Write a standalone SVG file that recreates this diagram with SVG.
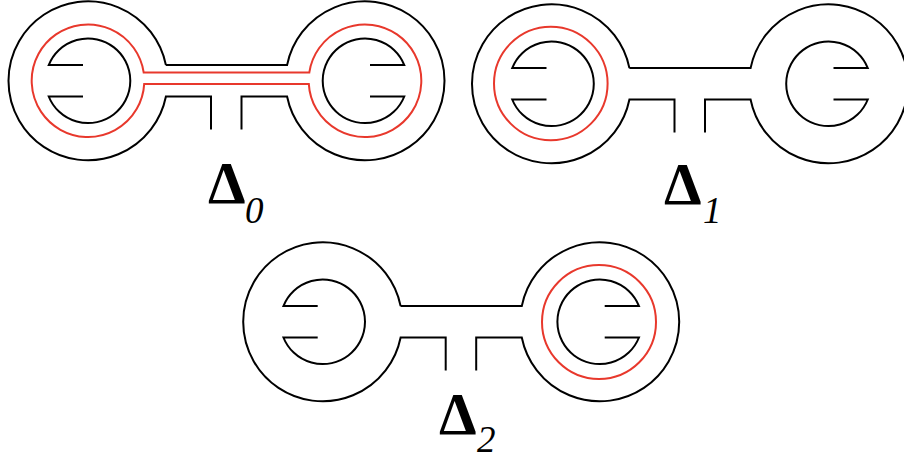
<svg xmlns="http://www.w3.org/2000/svg" width="904" height="459" viewBox="0 0 904 459">
<style>
.k{fill:none;stroke:#000;stroke-width:2}
.r{fill:none;stroke:#e8382c;stroke-width:2}
.d{font-family:"Liberation Serif",serif;font-weight:bold;font-size:60px;fill:#000}
.s{font-family:"Liberation Serif",serif;font-style:italic;font-size:37px;fill:#000}
</style>
<defs>
<g id="shape">
<path class="k" d="M77.93,-15.7 A79.5,79.5 0 1 0 77.93,15.7 L123,15.7 L123,48.8 M153.5,48.8 L153.5,15.7 L199.07,15.7 A79.5,79.5 0 1 0 199.07,-15.7 L77.93,-15.7"/>
<path class="k" d="M-5,-15.7 L-39.28,-15.7 A42.3,42.3 0 1 1 -39.28,15.7 L-5,15.7"/>
<path class="k" d="M282,-15.7 L316.28,-15.7 A42.3,42.3 0 1 0 316.28,15.7 L282,15.7"/>
</g>
</defs>
<g id="delta0">
<use href="#shape" transform="translate(88,80.8)"/>
<path class="r" transform="translate(88,80.8)" d="M55.67,-8.4 L221.33,-8.4 A56.3,56.3 0 1 1 220.8,3.1 L56.2,3.1 A56.3,56.3 0 1 1 55.67,-8.4 Z"/>
<text class="d" x="208" y="203">Δ</text>
<text class="s" x="245" y="223">0</text>
</g>
<g id="delta1">
<use href="#shape" transform="translate(551.5,83.8)"/>
<circle class="r" cx="550.8" cy="83.5" r="56.8"/>
<text class="d" x="664" y="204">Δ</text>
<text class="s" x="703" y="223">1</text>
</g>
<g id="delta2">
<use href="#shape" transform="translate(322.7,321.8)"/>
<circle class="r" cx="599" cy="322" r="57"/>
<text class="d" x="439" y="434">Δ</text>
<text class="s" x="477" y="452">2</text>
</g>
</svg>
